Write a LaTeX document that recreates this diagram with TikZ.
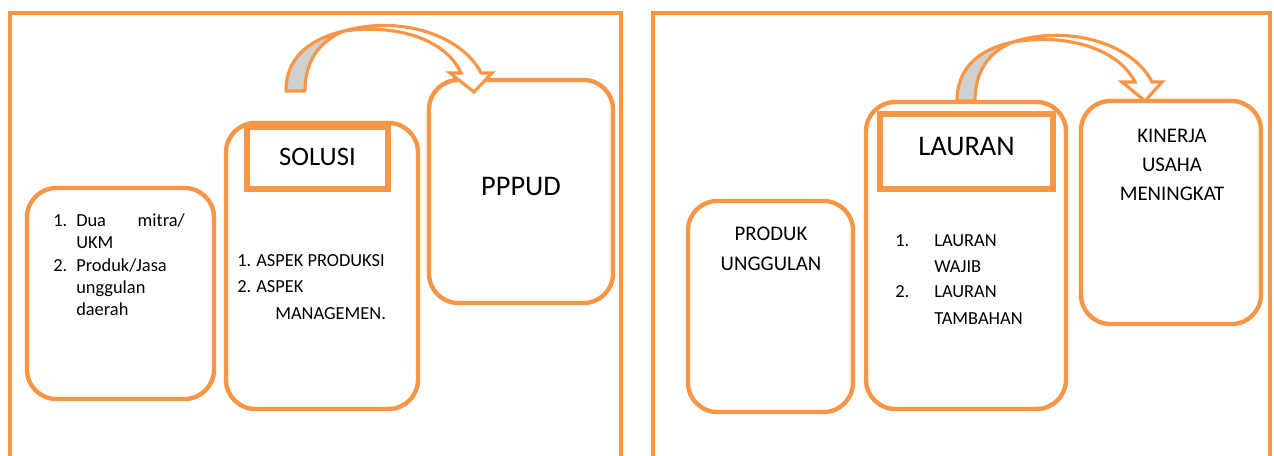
\documentclass[tikz,border=0pt]{standalone}
\usepackage{fontspec}
\setmainfont{Carlito}
\usepackage{tikz}
\definecolor{boxorange}{HTML}{F79646}
\definecolor{tailgray}{HTML}{D0D0D0}

\begin{document}
\begin{tikzpicture}[x=0.75pt,y=-0.75pt]
\tikzstyle{frame}=[draw=boxorange,line width=3pt]
\tikzstyle{roundbox}=[rectangle,rounded corners=22pt,draw=boxorange,line width=3.3pt,inner sep=0pt]
\tikzstyle{titlebox}=[rectangle,draw=boxorange,line width=3.8pt,inner sep=0pt]
\tikzstyle{tailpart}=[draw=boxorange,fill=tailgray,line width=2.4pt,line join=round]
\tikzstyle{bandpart}=[draw=boxorange,fill=white,line width=2.4pt,line join=miter]
\tikzstyle{item}=[inner sep=0pt,anchor=base west,font=\fontsize{13.8}{16}\selectfont]
\tikzstyle{caps}=[inner sep=0pt,anchor=base,font=\fontsize{15.6}{18}\selectfont]
\tikzstyle{title}=[inner sep=0pt,anchor=base,font=\fontsize{21.3}{24}\selectfont]
\useasboundingbox (0,0) rectangle (1274,455);
\clip (0,0) rectangle (1274,455);
% frames
\draw[frame] (10,470) -- (10,13) -- (621,13) -- (621,470);
\draw[frame] (653,470) -- (653,13) -- (1270,13) -- (1270,470);
% left panel
\node[roundbox,minimum width=140.25pt,minimum height=158.25pt] (mitra) at (120.5,293.5) {};
\node[roundbox,minimum width=144pt,minimum height=214.5pt] (solusi) at (322,266) {};
\node[titlebox,minimum width=105.75pt,minimum height=46.5pt] (solusititle) at (317.5,158) {};
\node[roundbox,minimum width=138pt,minimum height=167.25pt] (pppud) at (521,191.5) {};
\node[title,font=\fontsize{20}{24}\selectfont] (solusilabel) at (317.5,165) {SOLUSI};
\node[title] (pppudlabel) at (521,195) {PPPUD};
\node[item] (m1) at (53,226) {1.};
\node[item] (m1a) at (76,226) {Dua};
\node[item,anchor=base east] (m1b) at (185,226) {mitra/};
\node[item] (m1c) at (76,248) {UKM};
\node[item] (m2) at (53,271.5) {2.};
\node[item] (m2a) at (76,271.5) {Produk/Jasa};
\node[item] (m2b) at (76,293.5) {unggulan};
\node[item] (m2c) at (76,315.5) {daerah};
\node[item] (s1) at (237,266.5) {1.};
\node[item] (s1a) at (256,266.5) {ASPEK PRODUKSI};
\node[item] (s2) at (237,292.5) {2.};
\node[item] (s2a) at (256,292.5) {ASPEK};
\node[item] (s2b) at (275,319) {MANAGEMEN.};
% right panel
\node[roundbox,minimum width=123.75pt,minimum height=158.25pt] (produk) at (770.5,306.5) {};
\node[roundbox,minimum width=150pt,minimum height=230.25pt] (lauran) at (966,255.5) {};
\node[titlebox,minimum width=129.75pt,minimum height=56.25pt] (laurantitle) at (966.5,151.5) {};
\node[roundbox,minimum width=135pt,minimum height=167.25pt] (kinerja) at (1171,212.5) {};
\node[title] (lauranlabel) at (966.5,155) {LAURAN};
\node[caps] (p1) at (771,240.5) {PRODUK};
\node[caps] (p2) at (771,270.5) {UNGGULAN};
\node[caps] (k1) at (1172,142.5) {KINERJA};
\node[caps] (k2) at (1172,171.5) {USAHA};
\node[caps] (k3) at (1172,200.5) {MENINGKAT};
\node[item] (l1) at (895,246.5) {1.};
\node[item] (l1a) at (934,246.5) {LAURAN};
\node[item] (l1b) at (934,272.5) {WAJIB};
\node[item] (l2) at (895,297.5) {2.};
\node[item] (l2a) at (934,297.5) {LAURAN};
\node[item] (l2b) at (934,324) {TAMBAHAN};
% curved arrows
\draw[tailpart] (286,91) .. controls (286,60) and (306,40) .. (344,31) .. controls (318,42) and (305,62) .. (305,91) -- cycle;
\draw[bandpart] (344,31) .. controls (400,15) and (462,35) .. (481,73) -- (492,73) -- (474,92) -- (450,73) -- (461,73) .. controls (445,38) and (395,24) .. (344,31) -- cycle;
\draw[tailpart] (957,101) .. controls (957,70) and (976,50) .. (1013,42) .. controls (988,52) and (975,72) .. (975,101) -- cycle;
\draw[bandpart] (1013,42) .. controls (1069,24) and (1133,44) .. (1152,82) -- (1162,82) -- (1145,101) -- (1122,82) -- (1135,82) .. controls (1118,48) and (1065,33) .. (1013,42) -- cycle;
\end{tikzpicture}
\end{document}
